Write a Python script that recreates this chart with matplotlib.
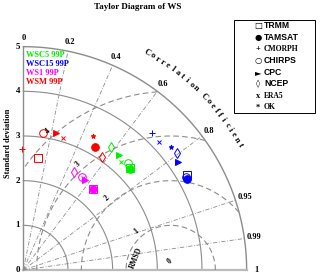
import numpy as np
import matplotlib.pyplot as plt

# ---- data (std, corr) ----
datasets = ["TRMM", "TAMSAT", "CMORPH", "CHIRPS", "CPC", "NCEP", "ERA5", "OK"]
groups = ["WSC5 99P", "WSC15 99P", "WS1 99P", "WSM 99P"]
group_colors = ["#00ee00", "#0000ff", "#ff00ff", "#ff0000"]

ref_std = 3.3

wsc5_std = [3.30, 3.28, np.nan, 3.34, 3.35, 3.38, 3.26, np.nan]
wsc5_cor = [0.722, 0.727, np.nan, 0.699, 0.641, 0.579, 0.670, np.nan]
wsc15_std = [4.23, 4.19, 4.22, 4.20, 4.23, 4.31, 4.18, 4.30]
wsc15_cor = [0.864, 0.873, 0.685, 0.868, 0.820, 0.796, 0.727, 0.767]
ws1_std = [2.40, 2.39, np.nan, 2.45, 2.44, 2.48, 2.46, np.nan]
ws1_cor = [0.650, 0.655, np.nan, 0.533, 0.565, 0.458, 0.545, np.nan]
wsm_std = [2.52, 3.19, 2.72, 3.10, 3.15, 3.08, 3.09, 3.38]
wsm_cor = [0.133, 0.504, -0.008, 0.143, 0.230, 0.569, 0.290, 0.460]

corr_lines = [0.2, 0.4, 0.6, 0.8, 0.95, 0.99]
corr_labels = [0.0, 0.2, 0.4, 0.6, 0.8, 0.95, 0.99, 1.0]
std_rings = [1, 2, 3, 4, 5]
rmsd_rings = [1, 2, 3, 4]

# marker style per dataset
markers = {
    "TRMM": dict(marker="s", ms=5.3, mfc="none"),
    "TAMSAT": dict(marker="o", ms=5.5, mfc=None),
    "CMORPH": dict(marker="+", ms=4.0, mfc=None),
    "CHIRPS": dict(marker="o", ms=5.5, mfc="none"),
    "CPC": dict(marker=">", ms=4.5, mfc=None),
    "NCEP": dict(marker="d", ms=5.5, mfc="none"),
    "ERA5": dict(marker="x", ms=2.8, mfc=None),
    "OK": dict(marker="*", ms=3.5, mfc=None),
}

SERIF = ["Liberation Serif", "DejaVu Serif"]
SANS = ["Liberation Sans", "DejaVu Sans"]
SYM = ["DejaVu Sans"]

# pixel layout of the reference (origin and px per std unit)
OX, OY, SC = 23.3, 270.0, 44.67
W, H = 320, 277


def px(x, y):
    return (x - OX) / SC, (OY - y) / SC


fig = plt.figure(figsize=(W / 100, H / 100), dpi=100)
ax = fig.add_axes([0, 0, 1, 1])
ax.set_xlim(-OX / SC, (W - OX) / SC)
ax.set_ylim(-(H - OY) / SC, OY / SC)
ax.axis("off")

rmax = 5.0
t = np.linspace(0, np.pi / 2, 300)
grey = "#8c8c8c"

# std arcs
for r in std_rings:
    ax.plot(r * np.cos(t), r * np.sin(t), color=grey, lw=0.8 if r < 5 else 1.0)

# axes lines
ax.plot([0, 0], [0, rmax], color=grey, lw=1.0)
ax.plot([0, rmax], [0, 0], color="#bbbbbb", lw=1.6)

# correlation lines
for c in corr_lines:
    a = np.arccos(c)
    ax.plot([0, rmax * np.cos(a)], [0, rmax * np.sin(a)], color=grey,
            lw=0.6, ls=(0, (5, 2, 1, 2)))

# rmsd circles
tt = np.linspace(0, np.pi, 600)
for r in rmsd_rings:
    x = ref_std + r * np.cos(tt)
    y = r * np.sin(tt)
    keep = (x >= 0) & (x ** 2 + y ** 2 <= rmax ** 2)
    x = np.where(keep, x, np.nan)
    y = np.where(keep, y, np.nan)
    ax.plot(x, y, color=grey, lw=0.8, ls=(0, (5, 3)))

# rmsd labels
la = np.deg2rad(131.5)
for r in rmsd_rings:
    ax.text(ref_std + (r + 0.15) * np.cos(la), (r + 0.15) * np.sin(la), str(r),
            rotation=42, ha="center", va="center", fontsize=5.5,
            fontweight="bold", family=SERIF)
ax.text(*px(170, 261), "0", rotation=42, ha="center", va="center",
        fontsize=5.5, fontweight="bold", family=SERIF)
ax.text(*px(136, 258), "RMSD", rotation=68, ha="center", va="center",
        fontsize=5.5, fontweight="bold", family=SERIF)

# correlation tick labels
for c in corr_labels:
    a = np.arccos(c)
    rr = 5.2
    lab = "0" if c == 0 else ("1" if c == 1 else f"{c:g}")
    ax.text(rr * np.cos(a) + (0.02 if c > 0.9 else 0), rr * np.sin(a), lab,
            ha="center", va="center", fontsize=6, fontweight="bold",
            family=SERIF)

# curved axis title
title_txt = "Correlation Coefficient"
a0, step = 60.3, 1.38
for i, ch in enumerate(title_txt):
    a = np.deg2rad(a0 - i * step)
    ax.text(5.6 * np.cos(a), 5.6 * np.sin(a), ch, rotation=np.rad2deg(a) - 90,
            ha="center", va="center", fontsize=6, fontweight="bold",
            family=SERIF)

# std tick labels
for s in range(6):
    ax.text(*px(20, OY - s * SC), str(s), ha="right", va="center",
            fontsize=6.5, fontweight="bold", family=SERIF)
ax.text(*px(8, 143), "Standard deviation", rotation=90, ha="center",
        va="center", fontsize=6, fontweight="bold", family=SERIF)

# points
all_std = [wsc5_std, wsc15_std, ws1_std, wsm_std]
all_cor = [wsc5_cor, wsc15_cor, ws1_cor, wsm_cor]
for stds, cors, col in zip(all_std, all_cor, group_colors):
    stds = np.array(stds)
    th = np.arccos(np.array(cors))
    for j, name in enumerate(datasets):
        if np.isnan(stds[j]):
            continue
        st = markers[name]
        mfc = col if st["mfc"] is None else "none"
        ax.plot(stds[j] * np.cos(th[j]), stds[j] * np.sin(th[j]),
                marker=st["marker"], ms=st["ms"], mfc=mfc, mec=col,
                mew=0.7, ls="none")

# group labels
for k, (g, col) in enumerate(zip(groups, group_colors)):
    ax.text(*px(26, 55 + k * 9), g, color=col, ha="left", va="center",
            fontsize=6, fontweight="bold", family=SERIF)

# legend box
ax.add_patch(plt.Rectangle(px(234, 113), 81 / SC, 93 / SC, fill=False,
                           ec="black", lw=0.7))
leg_syms = ["□", "●", "+", "○", "►", "◊", "x", "*"]
leg_fonts = [SANS, SANS, SERIF, SANS, SANS, SANS, SERIF, SERIF]
for k, (name, sym, fam) in enumerate(zip(datasets, leg_syms, leg_fonts)):
    y = 25.5 + k * 11.7
    ax.text(*px(258, y), sym, ha="center", va="center", fontsize=6,
            family=SYM if sym not in "x*+" else SERIF, fontweight="bold")
    ax.text(*px(264, y), name, ha="left", va="center",
            fontsize=6.2 if fam is SANS else 5.5,
            fontweight="bold", family=fam)

fig.text(138 / W, 1 - 7 / H, "Taylor Diagram of WS", ha="center", va="center",
         fontsize=6.5, fontweight="bold", family=SERIF)

fig.savefig("out.png", dpi=100)
